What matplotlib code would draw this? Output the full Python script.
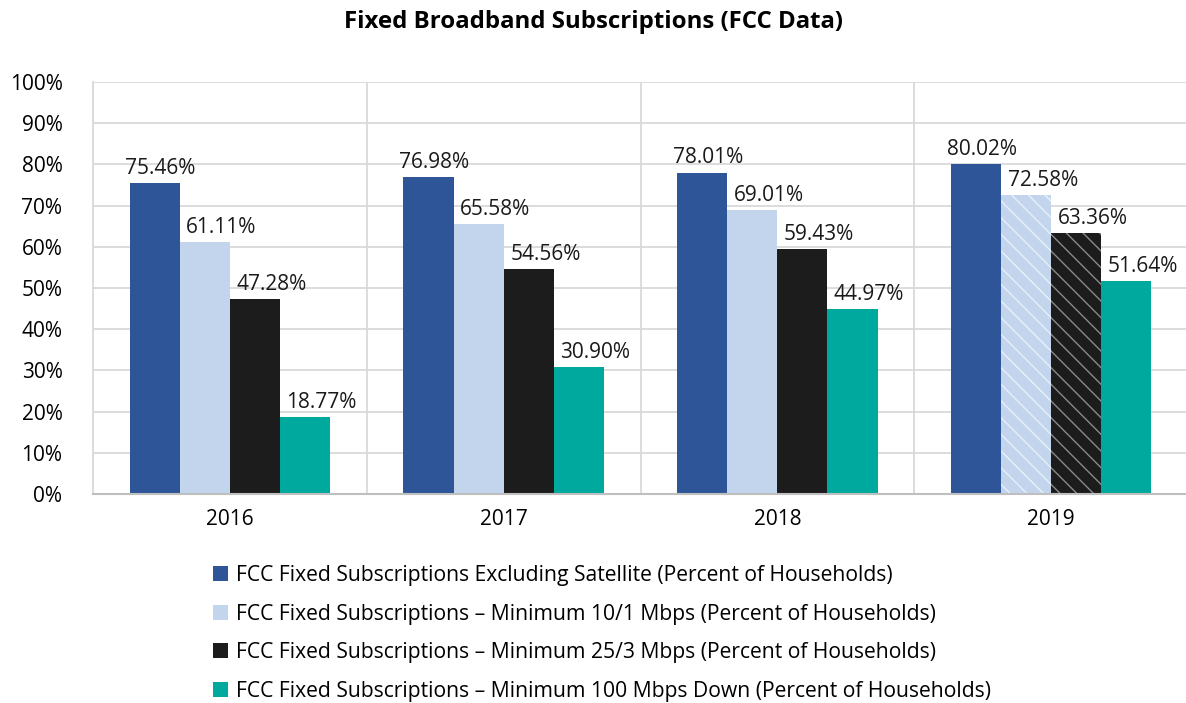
import matplotlib
matplotlib.use("Agg")
import matplotlib.pyplot as plt
from matplotlib.patches import Patch
import numpy as np

plt.rcParams['font.family'] = ['Open Sans', 'DejaVu Sans']
plt.rcParams['hatch.linewidth'] = 1.0

years = ['2016', '2017', '2018', '2019']
series_names = [
    'FCC Fixed Subscriptions Excluding Satellite (Percent of Households)',
    'FCC Fixed Subscriptions \u2013 Minimum 10/1 Mbps (Percent of Households)',
    'FCC Fixed Subscriptions \u2013 Minimum 25/3 Mbps (Percent of Households)',
    'FCC Fixed Subscriptions \u2013 Minimum 100 Mbps Down (Percent of Households)',
]
excl_satellite = [75.46, 76.98, 78.01, 80.02]
min_10_1 = [61.11, 65.58, 69.01, 72.58]
min_25_3 = [47.28, 54.56, 59.43, 63.36]
min_100 = [18.77, 30.90, 44.97, 51.64]

colors = ['#2E5597', '#C2D5EC', '#1C1C1C', '#00A99D']
hatch_colors = [None, '#E8F0F9', '#8A8A8A', None]
label_shift = [4, 12, 12, 12]   # points, labels sit a bit right of the bar

fig = plt.figure(figsize=(11.86, 7.03), dpi=100)
ax = fig.add_axes([93 / 1186, 1 - 494 / 703, 1095 / 1186, (494 - 82) / 703])

x = np.arange(len(years))
width = 0.183
all_series = [excl_satellite, min_10_1, min_25_3, min_100]
for i, vals in enumerate(all_series):
    offs = (i - 1.5) * width
    bars = ax.bar(x + offs, vals, width, color=colors[i], linewidth=0, zorder=3)
    # last year is hatched for the two middle series
    if hatch_colors[i] is not None:
        bars[-1].set_hatch('\\\\')
        bars[-1].set_edgecolor(hatch_colors[i])
    for xi, v in zip(x, vals):
        ax.annotate('%.2f%%' % v, (xi + offs, v), xytext=(label_shift[i], 3),
                    textcoords='offset points', ha='center', va='bottom',
                    fontsize=15, color='#1a1a1a', zorder=4)

ax.set_xlim(-0.5, 3.5)
ax.set_ylim(0, 100)
ax.set_yticks(np.arange(0, 101, 10))
ax.set_yticklabels(['%d%%' % t for t in range(0, 101, 10)], fontsize=15)
ax.set_xticks(x)
ax.set_xticklabels(years, fontsize=15)
ax.tick_params(length=0)
ax.tick_params(axis='x', pad=11)
ax.tick_params(axis='y', pad=22)

ax.yaxis.grid(True, color='#D9D9D9', linewidth=1.3, zorder=0)
for b in [0.5, 1.5, 2.5]:
    ax.axvline(b, color='#D9D9D9', linewidth=1.3, zorder=0)
for s in ['top', 'right']:
    ax.spines[s].set_visible(False)
ax.spines['left'].set_color('#D9D9D9')
ax.spines['left'].set_linewidth(1.3)
ax.spines['bottom'].set_color('#BFBFBF')
ax.spines['bottom'].set_linewidth(1.5)
ax.spines['bottom'].set_zorder(5)

fig.text(0.5, 1 - 22 / 703, 'Fixed Broadband Subscriptions (FCC Data)', ha='center', va='center',
         fontsize=17.3, fontweight='bold')

handles = [Patch(facecolor=c, edgecolor='none') for c in colors]
fig.legend(handles, series_names, loc='upper left', bbox_to_anchor=(213 / 1186, 1 - 565 / 703),
           frameon=False, fontsize=15.2, handlelength=0.7, handleheight=0.7, handletextpad=0.4,
           labelspacing=0.83, borderaxespad=0, borderpad=0)

fig.savefig('out.png', dpi=100)
